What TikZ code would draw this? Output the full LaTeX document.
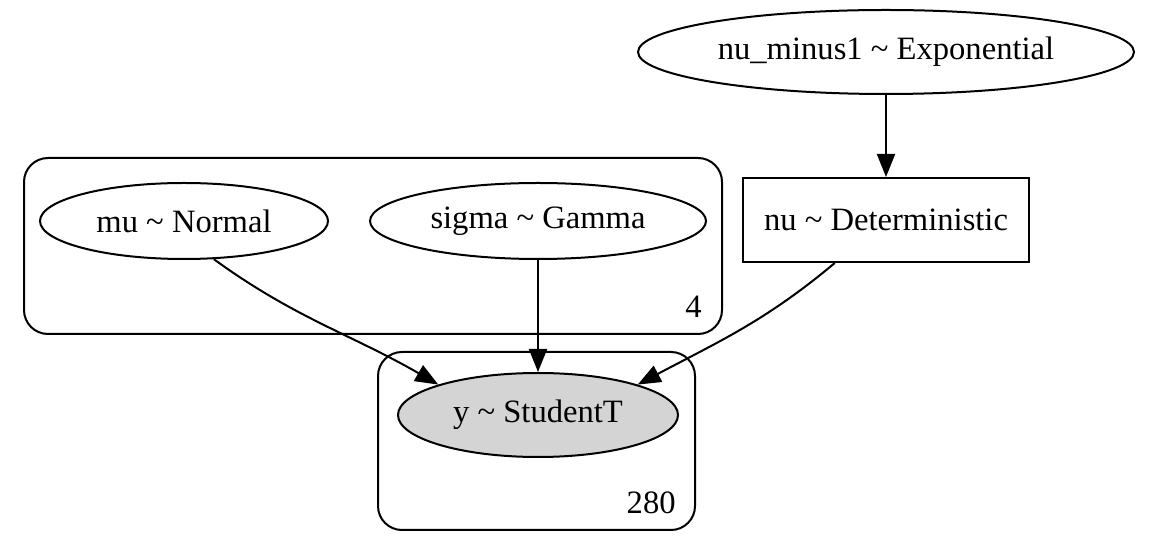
\documentclass[tikz,border=0pt]{standalone}
\usepackage{fontspec}
\setmainfont{Liberation Serif}
\usetikzlibrary{shapes.geometric,arrows.meta}
\colorlet{obsgray}{black!17}

\begin{document}
\begin{tikzpicture}[x=0.5pt,y=-0.5pt,
  font=\fontsize{16.3}{19}\selectfont,
  RVStyle/.style={shape=ellipse, draw, line width=1pt, inner sep=0pt},
  DetStyle/.style={shape=rectangle, draw, line width=1pt, inner sep=0pt,
    minimum width=143pt, minimum height=42pt},
  PlateStyle/.style={draw, line width=1pt, rounded corners=12pt},
  EdgeStyle/.style={-{Triangle[length=11.5pt,width=9pt]}, line width=1pt}]
\useasboundingbox (0,0) rectangle (1156,544);
% plates
\draw[PlateStyle] (24,158) rectangle (722,334);
\node[anchor=south east,inner sep=0] (n4) at (702,318) {4};
\draw[PlateStyle] (378,352) rectangle (695,530);
\node[anchor=south east,inner sep=0] (n280) at (676,514) {280};
% variables
\node[RVStyle, minimum width=248pt, minimum height=42pt] (numinus) at (886,52) {nu\_minus1 \char`\~{} Exponential};
\node[DetStyle] (nu) at (886,220) {nu \char`\~{} Deterministic};
\node[RVStyle, minimum width=144pt, minimum height=38pt] (mu) at (184,221) {mu \char`\~{} Normal};
\node[RVStyle, minimum width=168pt, minimum height=38pt] (sigma) at (538,221) {sigma \char`\~{} Gamma};
\node[RVStyle, fill=obsgray, minimum width=140pt, minimum height=42pt] (y) at (538,415) {y \char`\~{} StudentT};
% edges
\draw[EdgeStyle] (numinus) -- (nu);
\draw[EdgeStyle] (sigma) -- (y);
\draw[EdgeStyle] (mu.-52) to[out=-36, in=150] (y.north west);
\draw[EdgeStyle] (nu.-140) to[out=-140, in=28] (y.north east);
\end{tikzpicture}
\end{document}
